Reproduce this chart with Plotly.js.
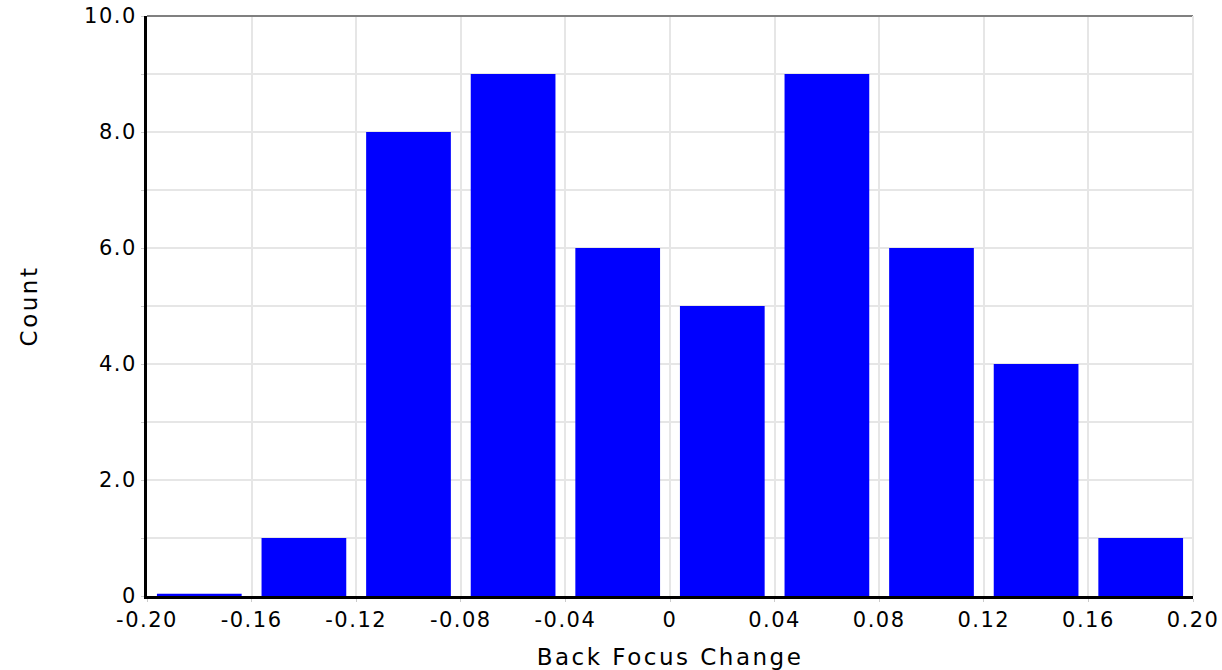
<!DOCTYPE html>
<html>
<head>
<meta charset="utf-8">
<script src="https://cdn.plot.ly/plotly-3.0.1.min.js"></script>
<style>
html,body{margin:0;padding:0;background:#fff;}
#chart{width:1222px;height:670px;}
.xtick text,.ytick text{letter-spacing:1.5px;}
.g-xtitle text,.g-ytitle text{letter-spacing:2.5px;}
</style>
</head>
<body>
<div id="chart"></div>
<script>
// Bin centres of the histogram (Back Focus Change) and counts
const binCenters = [-0.18, -0.14, -0.10, -0.06, -0.02, 0.02, 0.06, 0.10, 0.14, 0.18];
const counts = [0.04, 1, 8, 9, 6, 5, 9, 6, 4, 1];
const xTickVals = [-0.20, -0.16, -0.12, -0.08, -0.04, 0, 0.04, 0.08, 0.12, 0.16, 0.20];
const xTickText = ["-0.20", "-0.16", "-0.12", "-0.08", "-0.04", "0", "0.04", "0.08", "0.12", "0.16", "0.20"];
const yTickVals = [0, 1, 2, 3, 4, 5, 6, 7, 8, 9, 10];
const yTickText = ["0", "", "2.0", "", "4.0", "", "6.0", "", "8.0", "", "10.0"];

const font = {family: "DejaVu Sans, sans-serif", size: 21, color: "#000"};
const titleFont = {family: "DejaVu Sans, sans-serif", size: 23, color: "#000"};

Plotly.newPlot("chart", [{
  type: "bar",
  x: binCenters,
  y: counts,
  marker: {color: "#0000ff", line: {width: 0}},
  hoverinfo: "x+y"
}], {
  width: 1222,
  height: 670,
  margin: {l: 147, r: 29, t: 16, b: 74},
  paper_bgcolor: "#fff",
  plot_bgcolor: "#fff",
  bargap: 0.19,
  showlegend: false,
  font: font,
  xaxis: {
    range: [-0.2, 0.2],
    tickmode: "array",
    tickvals: xTickVals,
    ticktext: xTickText,
    showgrid: true,
    gridcolor: "#e6e6e6",
    gridwidth: 2,
    zeroline: false,
    showline: true,
    linecolor: "#000",
    linewidth: 3,
    ticks: "outside",
    ticklen: 3,
    tickcolor: "#cccccc",
    tickfont: font,
    title: {text: "Back Focus Change", font: titleFont, standoff: 20}
  },
  yaxis: {
    range: [0, 10],
    tickmode: "array",
    tickvals: yTickVals,
    ticktext: yTickText,
    showgrid: true,
    gridcolor: "#e6e6e6",
    gridwidth: 2,
    zeroline: false,
    showline: true,
    linecolor: "#000",
    linewidth: 3,
    ticks: "outside",
    ticklen: 3,
    tickcolor: "#cccccc",
    tickfont: font,
    title: {text: "Count", font: titleFont, standoff: 40}
  },
  shapes: [
    {type: "line", xref: "paper", yref: "paper", x0: 0, x1: 1, y0: 1, y1: 1, line: {color: "#808080", width: 2}},
    {type: "line", xref: "paper", yref: "paper", x0: 1, x1: 1, y0: 0, y1: 1, line: {color: "#e6e6e6", width: 2}}
  ]
}, {displayModeBar: false});
</script>
</body>
</html>
